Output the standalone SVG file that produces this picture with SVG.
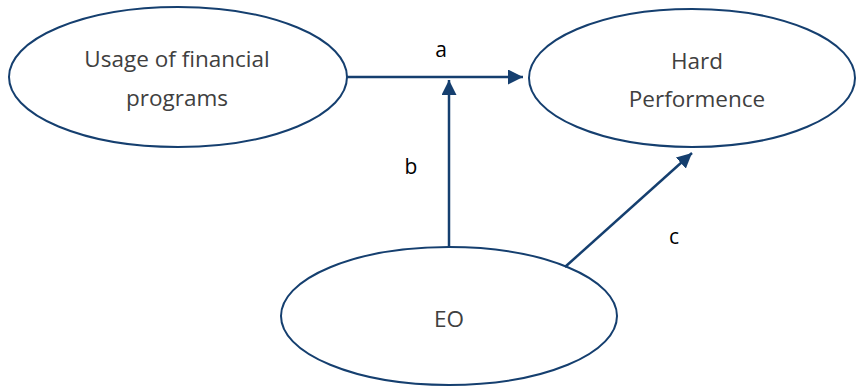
<svg xmlns="http://www.w3.org/2000/svg" width="856" height="387" viewBox="0 0 856 387">
<style>
.node{fill:#fff;stroke:#153f6f;stroke-width:2}
.t{font-family:"Open Sans","Liberation Sans",sans-serif;font-size:22.5px;fill:#404040;text-anchor:middle}
.lbl{font-family:"Open Sans","Liberation Sans",sans-serif;font-size:21px;fill:#000;text-anchor:middle}
.c{stroke:#153f6f;stroke-width:2.5;fill:none}
</style>
<defs>
<marker id="ah" viewBox="0 0 10 10" refX="10" refY="5" markerWidth="6" markerHeight="6" orient="auto" markerUnits="strokeWidth">
<path d="M0,0 L10,5 L0,10 Z" fill="#153f6f"/>
</marker>
</defs>
<rect width="856" height="387" fill="#fff"/>
<g id="n1">
<ellipse class="node" cx="178" cy="77" rx="169" ry="70"/>
<text class="t" x="177" y="67">Usage of financial</text>
<text class="t" x="177" y="106">programs</text>
</g>
<g id="n2">
<ellipse class="node" cx="692" cy="78" rx="163" ry="69"/>
<text class="t" x="697" y="69">Hard</text>
<text class="t" x="697" y="107">Performence</text>
</g>
<g id="n3">
<ellipse class="node" cx="449" cy="316" rx="168" ry="69"/>
<text class="t" x="449" y="327">EO</text>
</g>
<g id="connectors">
<line class="c" x1="347" y1="77" x2="523" y2="77" marker-end="url(#ah)"/>
<line class="c" x1="449" y1="247" x2="449" y2="80" marker-end="url(#ah)"/>
<line class="c" x1="565" y1="267" x2="692" y2="153" marker-end="url(#ah)"/>
<text class="lbl" x="441" y="57">a</text>
<text class="lbl" x="411" y="174">b</text>
<text class="lbl" x="674" y="244">c</text>
</g>
</svg>
